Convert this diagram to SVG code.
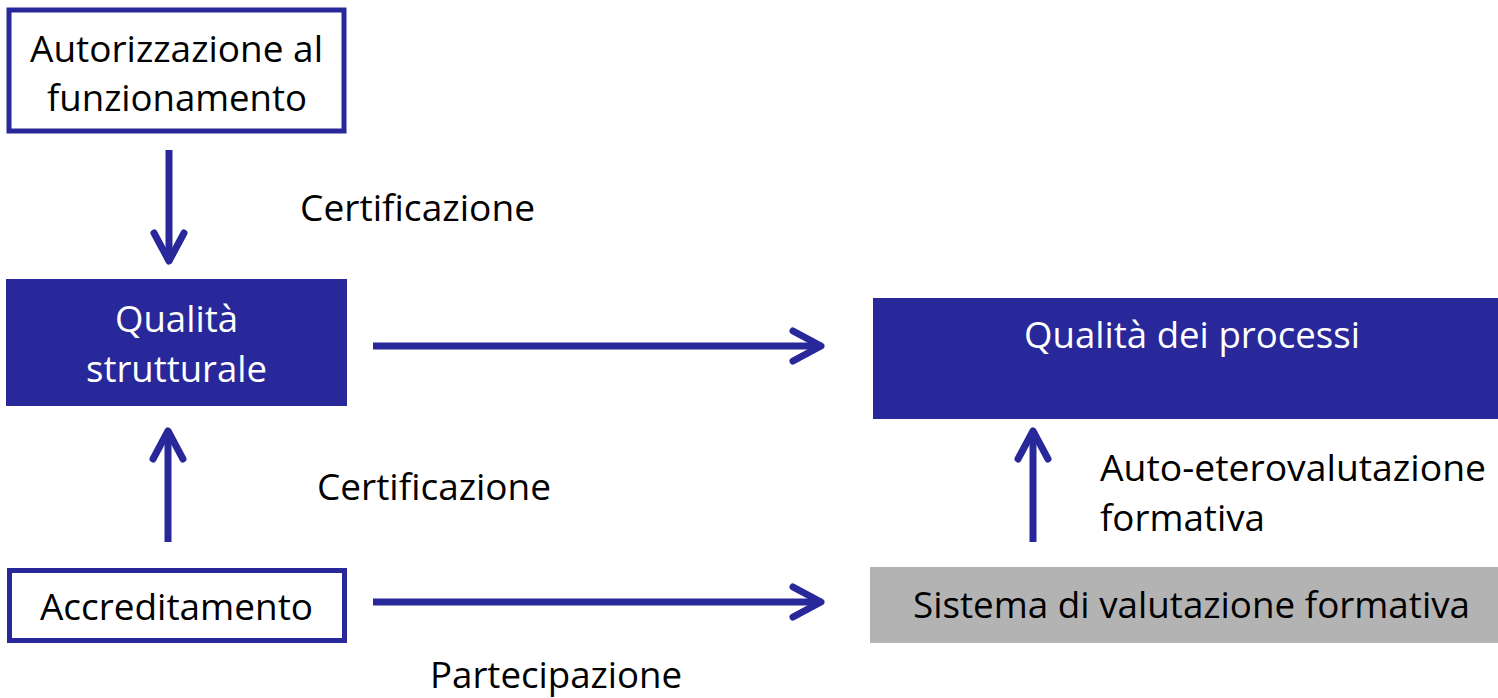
<svg xmlns="http://www.w3.org/2000/svg" width="1498" height="698" viewBox="0 0 1498 698">
<style>
text{font-family:"Open Sans","Noto Sans","Liberation Sans",sans-serif;font-size:37px;fill:#000}
.w{fill:#fff}
.ob{fill:#fff;stroke:#28289a;stroke-width:5}
.fb{fill:#28289a}
.gb{fill:#b3b3b3}
.ln{stroke:#28289a;stroke-width:7;fill:none}
.hd{stroke:#28289a;stroke-width:7;fill:none;stroke-linecap:round;stroke-linejoin:round}
</style>
<rect width="1498" height="698" fill="#fff"/>
<g id="connectors">
  <line class="ln" x1="169" y1="150" x2="169" y2="260"/>
  <polyline class="hd" points="154,233 169,261 184,233"/>
  <line class="ln" x1="168" y1="542" x2="168" y2="432"/>
  <polyline class="hd" points="153,459 168,431 183,459"/>
  <line class="ln" x1="373" y1="346" x2="820" y2="346"/>
  <polyline class="hd" points="793,331 821,346 793,361"/>
  <line class="ln" x1="373" y1="602" x2="820" y2="602"/>
  <polyline class="hd" points="793,587 821,602 793,617"/>
  <line class="ln" x1="1033" y1="542" x2="1033" y2="432"/>
  <polyline class="hd" points="1018,459 1033,431 1048,459"/>
  <text x="300" y="221" textLength="235" lengthAdjust="spacingAndGlyphs">Certificazione</text>
  <text x="317" y="500" textLength="234" lengthAdjust="spacingAndGlyphs">Certificazione</text>
  <text x="430" y="688" textLength="252" lengthAdjust="spacingAndGlyphs">Partecipazione</text>
  <text x="1100" y="481" textLength="386" lengthAdjust="spacingAndGlyphs">Auto-eterovalutazione</text>
  <text x="1100" y="531" textLength="165" lengthAdjust="spacingAndGlyphs">formativa</text>
</g>
<g id="node-autorizzazione">
  <rect class="ob" x="9" y="10" width="335" height="121"/>
  <text x="30" y="62" textLength="293" lengthAdjust="spacingAndGlyphs">Autorizzazione al</text>
  <text x="47" y="111" textLength="260" lengthAdjust="spacingAndGlyphs">funzionamento</text>
</g>
<g id="node-qualita-strutturale">
  <rect class="fb" x="6" y="279" width="341" height="127"/>
  <text class="w" x="115" y="332" textLength="123" lengthAdjust="spacingAndGlyphs">Qualità</text>
  <text class="w" x="86" y="382" textLength="181" lengthAdjust="spacingAndGlyphs">strutturale</text>
</g>
<g id="node-accreditamento">
  <rect class="ob" x="9.5" y="570.5" width="335" height="70"/>
  <text x="40" y="620" textLength="273" lengthAdjust="spacingAndGlyphs">Accreditamento</text>
</g>
<g id="node-qualita-processi">
  <rect class="fb" x="873" y="298" width="625" height="121"/>
  <text class="w" x="1024" y="348" textLength="336" lengthAdjust="spacingAndGlyphs">Qualità dei processi</text>
</g>
<g id="node-sistema">
  <rect class="gb" x="870" y="567" width="628" height="76"/>
  <text x="913" y="618" textLength="557" lengthAdjust="spacingAndGlyphs">Sistema di valutazione formativa</text>
</g>
</svg>
